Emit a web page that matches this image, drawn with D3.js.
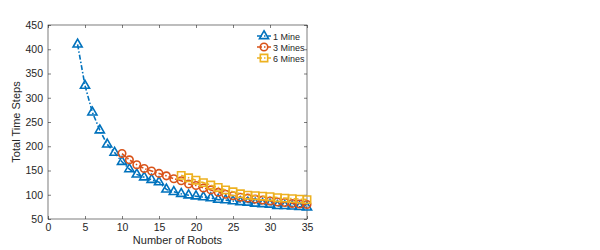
<!DOCTYPE html>
<html>
<head>
<meta charset="utf-8">
<script src="https://cdn.jsdelivr.net/npm/d3@7"></script>
<style>
  body { margin: 0; background: #fff; }
  text { font-family: "Liberation Sans", Arial, sans-serif; fill: #262626; }
</style>
</head>
<body>
<svg id="chart" width="600" height="250"></svg>
<script>
// values
const robots1 = d3.range(4, 36);
const mine1 = [410, 325, 270, 233, 204, 187, 168, 153, 142, 136, 131, 126, 111, 106, 102, 99, 97, 95, 93, 90, 89, 87, 85, 84, 82, 81, 80, 77, 77, 76, 75, 74];
const robots3 = d3.range(10, 36);
const mine3 = [185, 172, 162, 154, 149, 144, 139, 133, 129, 122, 119, 114, 110, 105, 101, 98, 95, 93, 91, 89, 87, 85, 84, 82, 81, 80];
const robots6 = d3.range(18, 36);
const mine6 = [140, 135, 130, 125, 120, 115, 110, 106, 102, 99, 98, 97, 96, 94, 93, 92, 91, 90];
const xTicks = [0, 5, 10, 15, 20, 25, 30, 35];
const yTicks = [50, 100, 150, 200, 250, 300, 350, 400, 450];

const series = [
  { name: "1 Mine", xs: robots1, ys: mine1, color: "#0072BD", marker: "triangle" },
  { name: "3 Mines", xs: robots3, ys: mine3, color: "#D95319", marker: "circle" },
  { name: "6 Mines", xs: robots6, ys: mine6, color: "#EDB120", marker: "square" }
];

const plotLeft = 48, plotRight = 307, plotTop = 25, plotBottom = 219;
const svg = d3.select("#chart");
const x = d3.scaleLinear().domain([0, 35]).range([plotLeft, plotRight]);
const y = d3.scaleLinear().domain([50, 450]).range([plotBottom, plotTop]);
const axisColor = "#262626";

// box and axes
svg.append("rect")
  .attr("x", plotLeft).attr("y", plotTop)
  .attr("width", plotRight - plotLeft).attr("height", plotBottom - plotTop)
  .attr("fill", "none").attr("stroke", axisColor).attr("stroke-width", 0.6);

function styleAxis(g) {
  g.select(".domain").remove();
  g.selectAll("line").attr("stroke", axisColor).attr("stroke-width", 0.6);
  g.selectAll("text").attr("font-size", 10.5).attr("fill", "#333")
    .style("font-family", "Liberation Sans, Arial, sans-serif");
}

svg.append("g").attr("transform", `translate(0,${plotBottom})`)
  .call(d3.axisBottom(x).tickValues(xTicks).tickSizeInner(-3).tickSizeOuter(0).tickPadding(5))
  .call(styleAxis);
svg.append("g").attr("transform", `translate(0,${plotTop})`)
  .call(d3.axisTop(x).tickValues(xTicks).tickSizeInner(-3).tickSizeOuter(0).tickFormat(""))
  .call(styleAxis);
svg.append("g").attr("transform", `translate(${plotLeft},0)`)
  .call(d3.axisLeft(y).tickValues(yTicks).tickSizeInner(-3).tickSizeOuter(0).tickPadding(5))
  .call(styleAxis);
svg.append("g").attr("transform", `translate(${plotRight},0)`)
  .call(d3.axisRight(y).tickValues(yTicks).tickSizeInner(-3).tickSizeOuter(0).tickFormat(""))
  .call(styleAxis);

svg.append("text")
  .attr("x", (plotLeft + plotRight) / 2).attr("y", 244)
  .attr("text-anchor", "middle").attr("font-size", 11).attr("fill", "#333")
  .text("Number of Robots");
svg.append("text")
  .attr("transform", `translate(20,${(plotTop + plotBottom) / 2}) rotate(-90)`)
  .attr("text-anchor", "middle").attr("font-size", 11).attr("fill", "#333")
  .text("Total Time Steps");

function markerPath(type) {
  if (type === "triangle") return d3.symbol(d3.symbolTriangle, 36)();
  if (type === "circle") return d3.symbol(d3.symbolCircle, 44)();
  return d3.symbol(d3.symbolSquare, 54)();
}

const line = d3.line().x(d => x(d[0])).y(d => y(d[1]));

series.forEach(s => {
  const pts = s.xs.map((v, i) => [v, s.ys[i]]);
  const g = svg.append("g");
  g.append("path")
    .attr("d", line(pts))
    .attr("fill", "none").attr("stroke", s.color)
    .attr("stroke-width", 1.6)
    .attr("stroke-dasharray", "5,2,1.5,2");
  g.selectAll("path.m").data(pts).join("path")
    .attr("class", "m")
    .attr("d", markerPath(s.marker))
    .attr("transform", d => `translate(${x(d[0])},${y(d[1])})`)
    .attr("fill", "none").attr("stroke", s.color).attr("stroke-width", 1.6);
});

// legend
const legend = svg.append("g");
series.forEach((s, i) => {
  const ly = 36 + i * 11;
  legend.append("line")
    .attr("x1", 257).attr("x2", 271).attr("y1", ly).attr("y2", ly)
    .attr("stroke", s.color).attr("stroke-width", 1.6)
    .attr("stroke-dasharray", "5,2,1.5,2");
  legend.append("path")
    .attr("d", markerPath(s.marker))
    .attr("transform", `translate(264,${ly})`)
    .attr("fill", "none").attr("stroke", s.color).attr("stroke-width", 1.6);
  legend.append("text")
    .attr("x", 273).attr("y", ly + 3.5)
    .attr("font-size", 9).text(s.name);
});
</script>
</body>
</html>
